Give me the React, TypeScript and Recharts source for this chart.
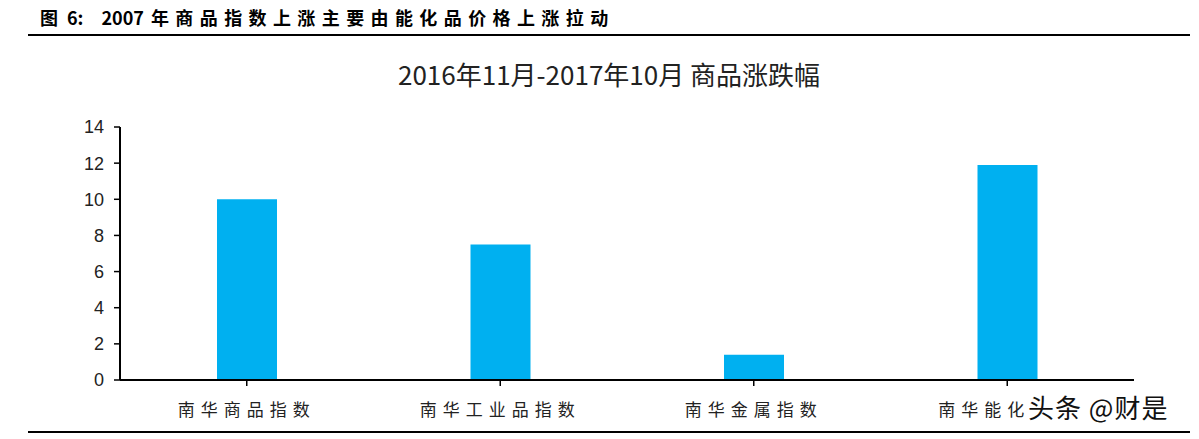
import React from "react";
import { BarChart, Bar, XAxis, YAxis } from "recharts";

const categories = ["南华商品指数", "南华工业品指数", "南华金属指数", "南华能化指数"];
const changes = [10.0, 7.5, 1.4, 11.9];
const yTicks = [0, 2, 4, 6, 8, 10, 12, 14];

const data = categories.map((name, i) => ({ name, value: changes[i] }));

const CJK = '"Noto Sans CJK SC", "Noto Sans", sans-serif';

export default function App() {
  return (
    <div style={{ position: "absolute", left: 0, top: 0, width: 1199, height: 439, background: "#fff", overflow: "hidden" }}>
      <div style={{ position: "absolute", left: 40, top: 4, fontFamily: CJK, fontWeight: 700, fontSize: 18, whiteSpace: "nowrap", color: "#000" }}>
        <span>图</span>
        <span style={{ marginLeft: 9 }}>6:</span>
        <span style={{ marginLeft: 18 }}>2007</span>
        <span style={{ marginLeft: 7, letterSpacing: 6.4 }}>年商品指数上涨主要由能化品价格上涨拉动</span>
      </div>
      <div style={{ position: "absolute", left: 28, top: 34, width: 1162, height: 2, background: "#000" }} />
      <div style={{ position: "absolute", left: 0, width: 1218, top: 55, textAlign: "center", fontFamily: CJK, fontSize: 26, color: "#222", whiteSpace: "nowrap" }}>
        2016年11月-2017年10月 商品涨跌幅
      </div>
      <div style={{ position: "absolute", left: 0, top: 0 }}>
        <BarChart width={1199} height={439} data={data} margin={{ top: 127, right: 65, bottom: 29, left: 0 }}>
          <XAxis
            dataKey="name"
            height={30}
            axisLine={{ stroke: "#000", strokeWidth: 2 }}
            tickLine={{ stroke: "#000", strokeWidth: 1.5 }}
            tickSize={6}
            tickMargin={18}
            interval={0}
            tick={{ fill: "#222", fontSize: 17, fontFamily: CJK, letterSpacing: 6 }}
          />
          <YAxis
            domain={[0, 14]}
            ticks={yTicks}
            width={120}
            axisLine={{ stroke: "#000", strokeWidth: 2 }}
            tickLine={{ stroke: "#000", strokeWidth: 1.5 }}
            tickSize={6}
            tickMargin={10}
            tick={{ fill: "#222", fontSize: 18, fontFamily: '"Liberation Sans", Arial, sans-serif' }}
          />
          <Bar dataKey="value" fill="#00B0F0" barSize={60} isAnimationActive={false} />
        </BarChart>
      </div>
      <div style={{ position: "absolute", left: 1026, top: 388, fontFamily: CJK, fontSize: 26, letterSpacing: 1, color: "#111", whiteSpace: "nowrap", background: "#fff", paddingLeft: 2 }}>
        头条 @财是
      </div>
      <div style={{ position: "absolute", left: 28, top: 431, width: 1162, height: 2, background: "#000" }} />
    </div>
  );
}
